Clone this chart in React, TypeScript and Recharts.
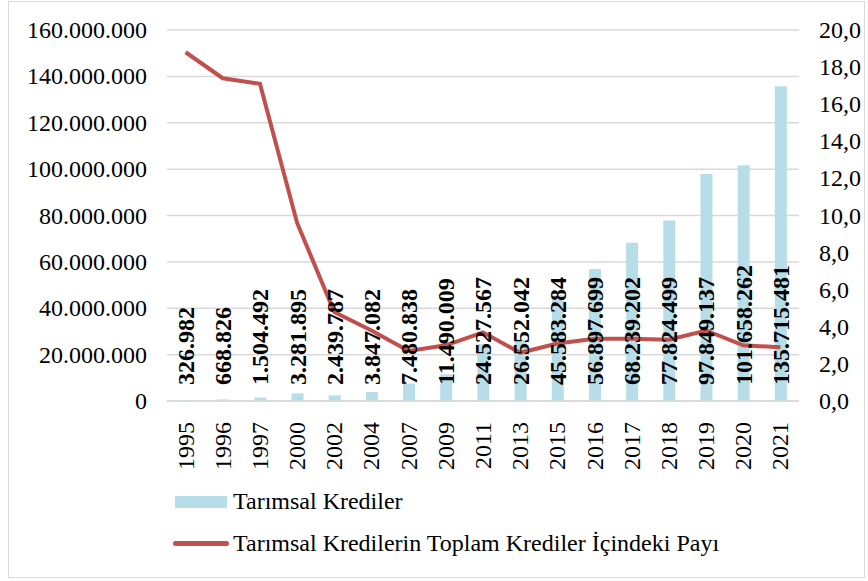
import React from 'react';
import {
  ComposedChart,
  Bar,
  Line,
  XAxis,
  YAxis,
  CartesianGrid,
  Legend,
  LabelList,
} from 'recharts';

const years = ['1995', '1996', '1997', '2000', '2002', '2004', '2007', '2009', '2011', '2013', '2015', '2016', '2017', '2018', '2019', '2020', '2021'];
const credits = [326982, 668826, 1504492, 3281895, 2439787, 3847082, 7480838, 11490009, 24527567, 26552042, 45583284, 56897699, 68239202, 77824499, 97849137, 101658262, 135715481];
const shares = [18.8, 17.4, 17.1, 9.6, 4.8, 3.8, 2.7, 3.0, 3.7, 2.6, 3.1, 3.35, 3.35, 3.3, 3.8, 3.0, 2.9];
const leftTicks = [0, 20000000, 40000000, 60000000, 80000000, 100000000, 120000000, 140000000, 160000000];
const rightTicks = [0, 2, 4, 6, 8, 10, 12, 14, 16, 18, 20];

const BAR_COLOR = '#B7DDE8';
const LINE_COLOR = '#C0504D';
const GRID = '#d9d9d9';
const FONT = "'Liberation Serif', 'Times New Roman', serif";

const data = years.map((year, i) => ({ year, credit: credits[i], share: shares[i] }));

const dots = (v: number) => String(v).replace(/\B(?=(\d{3})+(?!\d))/g, '.');
const comma = (v: number) => v.toFixed(1).replace('.', ',');

function YearTick(props: any) {
  const { x, y, payload } = props;
  const ty = y + 13;
  return (
    <text
      x={x}
      y={ty}
      transform={`rotate(-90, ${x}, ${ty})`}
      textAnchor="end"
      dominantBaseline="central"
      style={{ fontSize: 24, fontFamily: FONT }}
      fill="#000"
    >
      {payload.value}
    </text>
  );
}

function AxisTick(props: any) {
  const { x, y, payload, textAnchor, formatter } = props;
  return (
    <text
      x={x}
      y={y}
      textAnchor={textAnchor}
      dominantBaseline="central"
      style={{ fontSize: 24, fontFamily: FONT }}
      fill="#000"
    >
      {formatter(payload.value)}
    </text>
  );
}

function BarValue(props: any) {
  const { x, y, width, height, value } = props;
  const cx = x + width / 2;
  const by = y + height - 16;
  return (
    <text
      x={cx}
      y={by}
      transform={`rotate(-90, ${cx}, ${by})`}
      textAnchor="start"
      dominantBaseline="central"
      style={{ fontSize: 24, fontWeight: 700, fontFamily: FONT }}
      fill="#000"
    >
      {dots(value)}
    </text>
  );
}

function LegendBox() {
  return (
    <div style={{ height: 100, position: 'relative', fontFamily: FONT, fontSize: 24, color: '#000' }}>
      <div style={{ position: 'absolute', left: 175, top: 25, width: 52, height: 12, background: BAR_COLOR }} />
      <div style={{ position: 'absolute', left: 233, top: 15, lineHeight: '30px', whiteSpace: 'nowrap' }}>Tarımsal Krediler</div>
      <div style={{ position: 'absolute', left: 173, top: 70, width: 56, height: 5, borderRadius: 3, background: LINE_COLOR }} />
      <div style={{ position: 'absolute', left: 233, top: 57, lineHeight: '30px', whiteSpace: 'nowrap' }}>
        Tarımsal Kredilerin Toplam Krediler İçindeki Payı
      </div>
    </div>
  );
}

export default function App() {
  return (
    <div style={{ position: 'absolute', left: 0, top: 0, width: 868, height: 581, background: '#fff', fontFamily: FONT }}>
      <div
        style={{
          position: 'absolute',
          left: 8,
          top: 1,
          width: 857,
          height: 577,
          border: `1px solid ${GRID}`,
          boxSizing: 'border-box',
        }}
      />
      <ComposedChart
        width={868}
        height={581}
        data={data}
        margin={{ top: 30, right: 0, bottom: 10, left: 0 }}
        barSize={12}
        style={{ position: 'absolute', left: 0, top: 0, fontFamily: FONT }}
      >
        <CartesianGrid yAxisId="left" vertical={false} stroke={GRID} strokeWidth={1.5} />
        <XAxis
          dataKey="year"
          interval={0}
          height={70}
          tick={<YearTick />}
          tickLine={false}
          axisLine={{ stroke: GRID, strokeWidth: 1.5 }}
        />
        <YAxis
          yAxisId="left"
          width={167}
          domain={[0, 160000000]}
          ticks={leftTicks}
          tickSize={0}
          tickMargin={20}
          axisLine={false}
          tickLine={false}
          tick={<AxisTick formatter={dots} />}
        />
        <YAxis
          yAxisId="right"
          orientation="right"
          width={69}
          domain={[0, 20]}
          ticks={rightTicks}
          tickSize={0}
          tickMargin={20}
          axisLine={false}
          tickLine={false}
          tick={<AxisTick formatter={comma} />}
        />
        <Bar yAxisId="left" dataKey="credit" name="Tarımsal Krediler" fill={BAR_COLOR} isAnimationActive={false}>
          <LabelList dataKey="credit" content={<BarValue />} />
        </Bar>
        <Line
          yAxisId="right"
          dataKey="share"
          name="Tarımsal Kredilerin Toplam Krediler İçindeki Payı"
          stroke={LINE_COLOR}
          strokeWidth={4}
          dot={false}
          isAnimationActive={false}
        />
        <Legend verticalAlign="bottom" content={<LegendBox />} />
      </ComposedChart>
    </div>
  );
}
